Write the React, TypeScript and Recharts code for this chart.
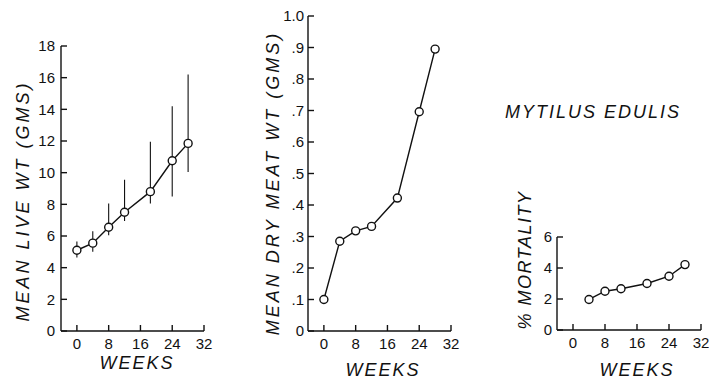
import { LineChart, Line, XAxis, YAxis, ErrorBar } from "recharts";

// weeks of sampling
const weeks = [0, 4, 8, 12, 18.5, 24, 28];
const liveWt = [5.1, 5.55, 6.55, 7.5, 8.8, 10.75, 11.85];
const liveLow = [4.65, 5.0, 6.05, 6.95, 8.05, 8.5, 10.05];
const liveHigh = [5.65, 6.3, 8.05, 9.55, 11.95, 14.2, 16.2];
const dryWt = [0.1, 0.285, 0.318, 0.332, 0.422, 0.696, 0.895];
const mortWeeks = [4, 8, 12, 18.5, 24, 28];
const mortality = [1.97, 2.5, 2.66, 3.0, 3.47, 4.22];

const weekTicks = [0, 8, 16, 24, 32];
const liveTicks = [0, 2, 4, 6, 8, 10, 12, 14, 16, 18];
const dryTicks = [0, 0.1, 0.2, 0.3, 0.4, 0.5, 0.6, 0.7, 0.8, 0.9, 1.0];
const mortTicks = [0, 2, 4, 6];

const liveData = weeks.map((w, i) => ({
  week: w,
  wt: liveWt[i],
  err: [liveWt[i] - liveLow[i], liveHigh[i] - liveWt[i]],
}));
const dryData = weeks.map((w, i) => ({ week: w, wt: dryWt[i] }));
const mortData = mortWeeks.map((w, i) => ({ week: w, pct: mortality[i] }));

const INK = "#111";
const tickFont = { fill: INK, fontSize: 15, fontFamily: "Liberation Sans" };
const labelFont = {
  fill: INK,
  fontSize: 18,
  fontStyle: "italic",
  fontFamily: "Liberation Sans",
};

const dot = { r: 4, fill: "#fff", stroke: INK, strokeWidth: 1.4 };

const fmtDry = (v: number) => (v === 0 ? "0" : v === 1 ? "1.0" : "." + Math.round(v * 10));

const xAxis = (
  <XAxis
    type="number"
    dataKey="week"
    domain={[-4, 32]}
    ticks={weekTicks}
    allowDataOverflow
    height={49}
    stroke={INK}
    strokeWidth={1.4}
    tickSize={-6}
    tickMargin={13}
    tick={tickFont}
  />
);

export default function App() {
  return (
    <div
      style={{
        position: "absolute",
        left: 0,
        top: 0,
        width: 709,
        height: 380,
        background: "#fff",
      }}
    >
      <div style={{ position: "absolute", left: 0, top: 0 }}>
        <LineChart width={240} height={380} data={liveData} margin={{ top: 46, right: 36, left: 0, bottom: 0 }}>
          {xAxis}
          <YAxis
            type="number"
            domain={[0, 18]}
            ticks={liveTicks}
            width={61}
            stroke={INK}
            strokeWidth={1.4}
            tickSize={-6}
            tickMargin={12}
            tick={tickFont}
          />
          <Line
            dataKey="wt"
            stroke={INK}
            strokeWidth={1.4}
            dot={dot}
            isAnimationActive={false}
          >
            <ErrorBar dataKey="err" width={0} stroke={INK} strokeWidth={1.1} direction="y" />
          </Line>
        </LineChart>
      </div>

      <div style={{ position: "absolute", left: 240, top: 0 }}>
        <LineChart width={240} height={380} data={dryData} margin={{ top: 16, right: 29, left: 0, bottom: 0 }}>
          {xAxis}
          <YAxis
            type="number"
            domain={[0, 1]}
            ticks={dryTicks}
            width={68}
            stroke={INK}
            strokeWidth={1.4}
            tickSize={-6}
            tickMargin={10}
            tick={tickFont}
            tickFormatter={fmtDry}
          />
          <Line dataKey="wt" stroke={INK} strokeWidth={1.4} dot={dot} isAnimationActive={false} />
        </LineChart>
      </div>

      <div style={{ position: "absolute", left: 480, top: 0 }}>
        <LineChart width={229} height={380} data={mortData} margin={{ top: 237, right: 8, left: 0, bottom: 0 }}>
          <XAxis
            type="number"
            dataKey="week"
            domain={[-4, 32]}
            ticks={weekTicks}
            allowDataOverflow
            height={50}
            stroke={INK}
            strokeWidth={1.4}
            tickSize={-6}
            tickMargin={13}
            tick={tickFont}
          />
          <YAxis
            type="number"
            domain={[0, 6]}
            ticks={mortTicks}
            width={77}
            stroke={INK}
            strokeWidth={1.4}
            tickSize={-6}
            tickMargin={11}
            tick={tickFont}
          />
          <Line dataKey="pct" stroke={INK} strokeWidth={1.4} dot={dot} isAnimationActive={false} />
        </LineChart>
      </div>

      <svg
        width={709}
        height={380}
        style={{ position: "absolute", left: 0, top: 0, pointerEvents: "none" }}
      >
        <text {...labelFont} letterSpacing={3} textAnchor="middle" dominantBaseline="central" transform="translate(23,201) rotate(-90)">
          MEAN LIVE WT (GMS)
        </text>
        <text {...labelFont} letterSpacing={3} textAnchor="middle" dominantBaseline="central" transform="translate(273,183) rotate(-90)">
          MEAN DRY MEAT WT (GMS)
        </text>
        <text {...labelFont} letterSpacing={1.5} textAnchor="middle" dominantBaseline="central" transform="translate(525,260) rotate(-90)">
          % MORTALITY
        </text>
        <text {...labelFont} letterSpacing={2} textAnchor="middle" dominantBaseline="central" x={137} y={363}>
          WEEKS
        </text>
        <text {...labelFont} letterSpacing={2} textAnchor="middle" dominantBaseline="central" x={383} y={370}>
          WEEKS
        </text>
        <text {...labelFont} letterSpacing={2} textAnchor="middle" dominantBaseline="central" x={637} y={370}>
          WEEKS
        </text>
        <text {...labelFont} letterSpacing={2} textAnchor="middle" dominantBaseline="central" x={593} y={112}>
          MYTILUS EDULIS
        </text>
      </svg>
    </div>
  );
}
